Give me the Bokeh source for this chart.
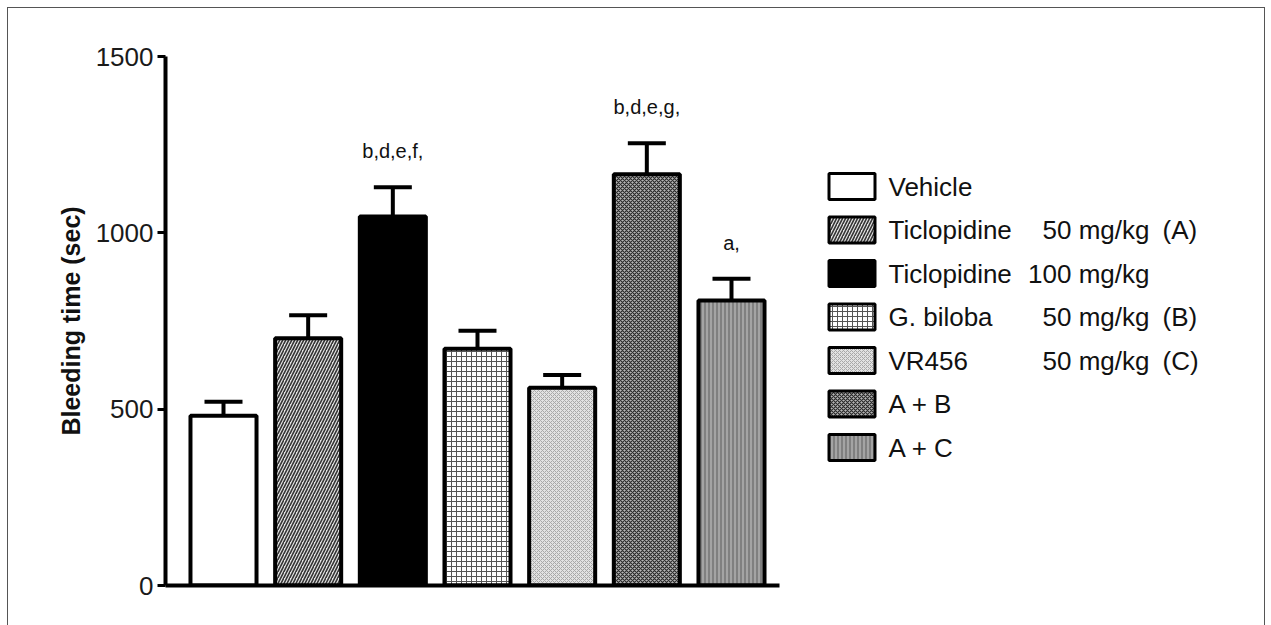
from bokeh.plotting import figure
from bokeh.models import ColumnDataSource, Range1d, Whisker, TeeHead
from bokeh.layouts import row
from bokeh.core.properties import value
from bokeh.embed import file_html
from bokeh.resources import INLINE

# ---- data ----
names = ["Vehicle", "Ticlopidine", "Ticlopidine", "G. biloba", "VR456", "A + B", "A + C"]
doses = ["", "50 mg/kg", "100 mg/kg", "50 mg/kg", "50 mg/kg", "", ""]
groups = ["", "(A)", "", "(B)", "(C)", "", ""]
means = [481, 701, 1046, 671, 561, 1166, 808]
sems = [40, 65, 83, 51, 36, 88, 62]
signif = ["", "", "b,d,e,f,", "", "", "b,d,e,g,", "a,"]

# ---- styles ----
fills = ["#ffffff", "#e2e2e2", "#000000", "#ffffff", "#e2e2e2", "#b5b5b5", "#808080"]
hatches = [" ", "/", " ", "+", "x", "x", "|"]
hatch_colors = ["#000000", "#333333", "#000000", "#555555", "#a8a8a8", "#2a2a2a", "#c8c8c8"]
hatch_scales = [4, 6, 4, 5, 4, 4, 4]
hatch_weights = [1, 1.6, 1, 1, 1, 1.2, 1]

FONT = "Liberation Sans"
H = 617
BT, BB = 48, 40  # top/bottom borders shared by both panels

idx = list(range(len(means)))
src = ColumnDataSource(dict(
    x=idx, top=means, upper=[m + s for m, s in zip(means, sems)],
    fill=fills, hatch=hatches, hcol=hatch_colors, hscale=hatch_scales,
    hweight=hatch_weights, sig=signif,
))

p = figure(width=781, height=H, output_backend="svg", toolbar_location=None,
           x_range=Range1d(-0.685, 6.567), y_range=Range1d(0, 1500),
           min_border_left=157, min_border_right=10, min_border_top=BT,
           min_border_bottom=BB)
p.outline_line_color = None
p.grid.visible = False
p.background_fill_color = "white"
p.border_fill_color = "white"

p.vbar(x="x", top="top", bottom=0, width=0.78, source=src,
       fill_color="fill", line_color="black", line_width=4,
       hatch_pattern="hatch", hatch_color="hcol", hatch_scale="hscale",
       hatch_weight="hweight")

wh = Whisker(source=src, base="x", lower="top", upper="upper",
             lower_head=None,
             upper_head=TeeHead(size=38, line_width=4, line_color="black"),
             line_width=4, line_color="black")
p.add_layout(wh)

p.text(x="x", y="upper", text="sig", source=src, y_offset=-36,
       text_align="center", text_baseline="middle",
       text_font=value(FONT), text_font_size="20px", text_color="#111111")

# y axis
ya = p.yaxis[0]
ya.ticker = [0, 500, 1000, 1500]
ya.axis_line_width = 4
ya.axis_line_color = "black"
ya.major_tick_line_width = 3
ya.major_tick_line_color = "black"
ya.major_tick_out = 8
ya.major_tick_in = 0
ya.minor_tick_line_color = None
ya.major_label_text_font = FONT
ya.major_label_text_font_size = "26px"
ya.major_label_text_color = "#1a1a1a"
ya.major_label_standoff = 4
ya.axis_label = "Bleeding time (sec)"
ya.axis_label_text_font = FONT
ya.axis_label_text_font_style = "bold"
ya.axis_label_text_font_size = "25px"
ya.axis_label_text_color = "#111111"
ya.axis_label_standoff = 8

xa = p.xaxis[0]
xa.ticker = []
xa.axis_line_width = 4
xa.axis_line_color = "black"
xa.major_tick_line_color = None
xa.minor_tick_line_color = None
xa.major_label_text_color = None

# ---- legend panel (pixel coordinates inside its frame) ----
W2 = 1256 - 781
FH = H - BT - BB
leg = figure(width=W2, height=H, output_backend="svg", toolbar_location=None,
             x_range=Range1d(0, W2), y_range=Range1d(FH, 0),
             min_border_left=0, min_border_right=0,
             min_border_top=BT, min_border_bottom=BB)
leg.axis.visible = False
leg.grid.visible = False
leg.outline_line_color = None

ly = [130 + 43.5 * i for i in idx]
lsrc = ColumnDataSource(dict(
    y=ly, fill=fills, hatch=hatches, hcol=hatch_colors, hscale=hatch_scales,
    hweight=hatch_weights, name=names, dose=doses, grp=groups,
))
leg.rect(x=62.5, y="y", width=46, height=26, source=lsrc,
         fill_color="fill", line_color="black", line_width=3,
         hatch_pattern="hatch", hatch_color="hcol", hatch_scale="hscale",
         hatch_weight="hweight")
for col, xx, al in (("name", 99, "left"), ("dose", 360, "right"), ("grp", 373, "left")):
    leg.text(x=xx, y="y", text=col, source=lsrc, text_align=al,
             text_baseline="middle", text_font=value(FONT),
             text_font_size="26px", text_color="#111111")

layout = row(p, leg, margin=(7, 0, 0, 7),
             styles={"border-top": "1px solid #555555",
                     "border-left": "1px solid #555555",
                     "border-right": "1px solid #555555"})

open("out.html", "w").write(file_html(layout, INLINE))
